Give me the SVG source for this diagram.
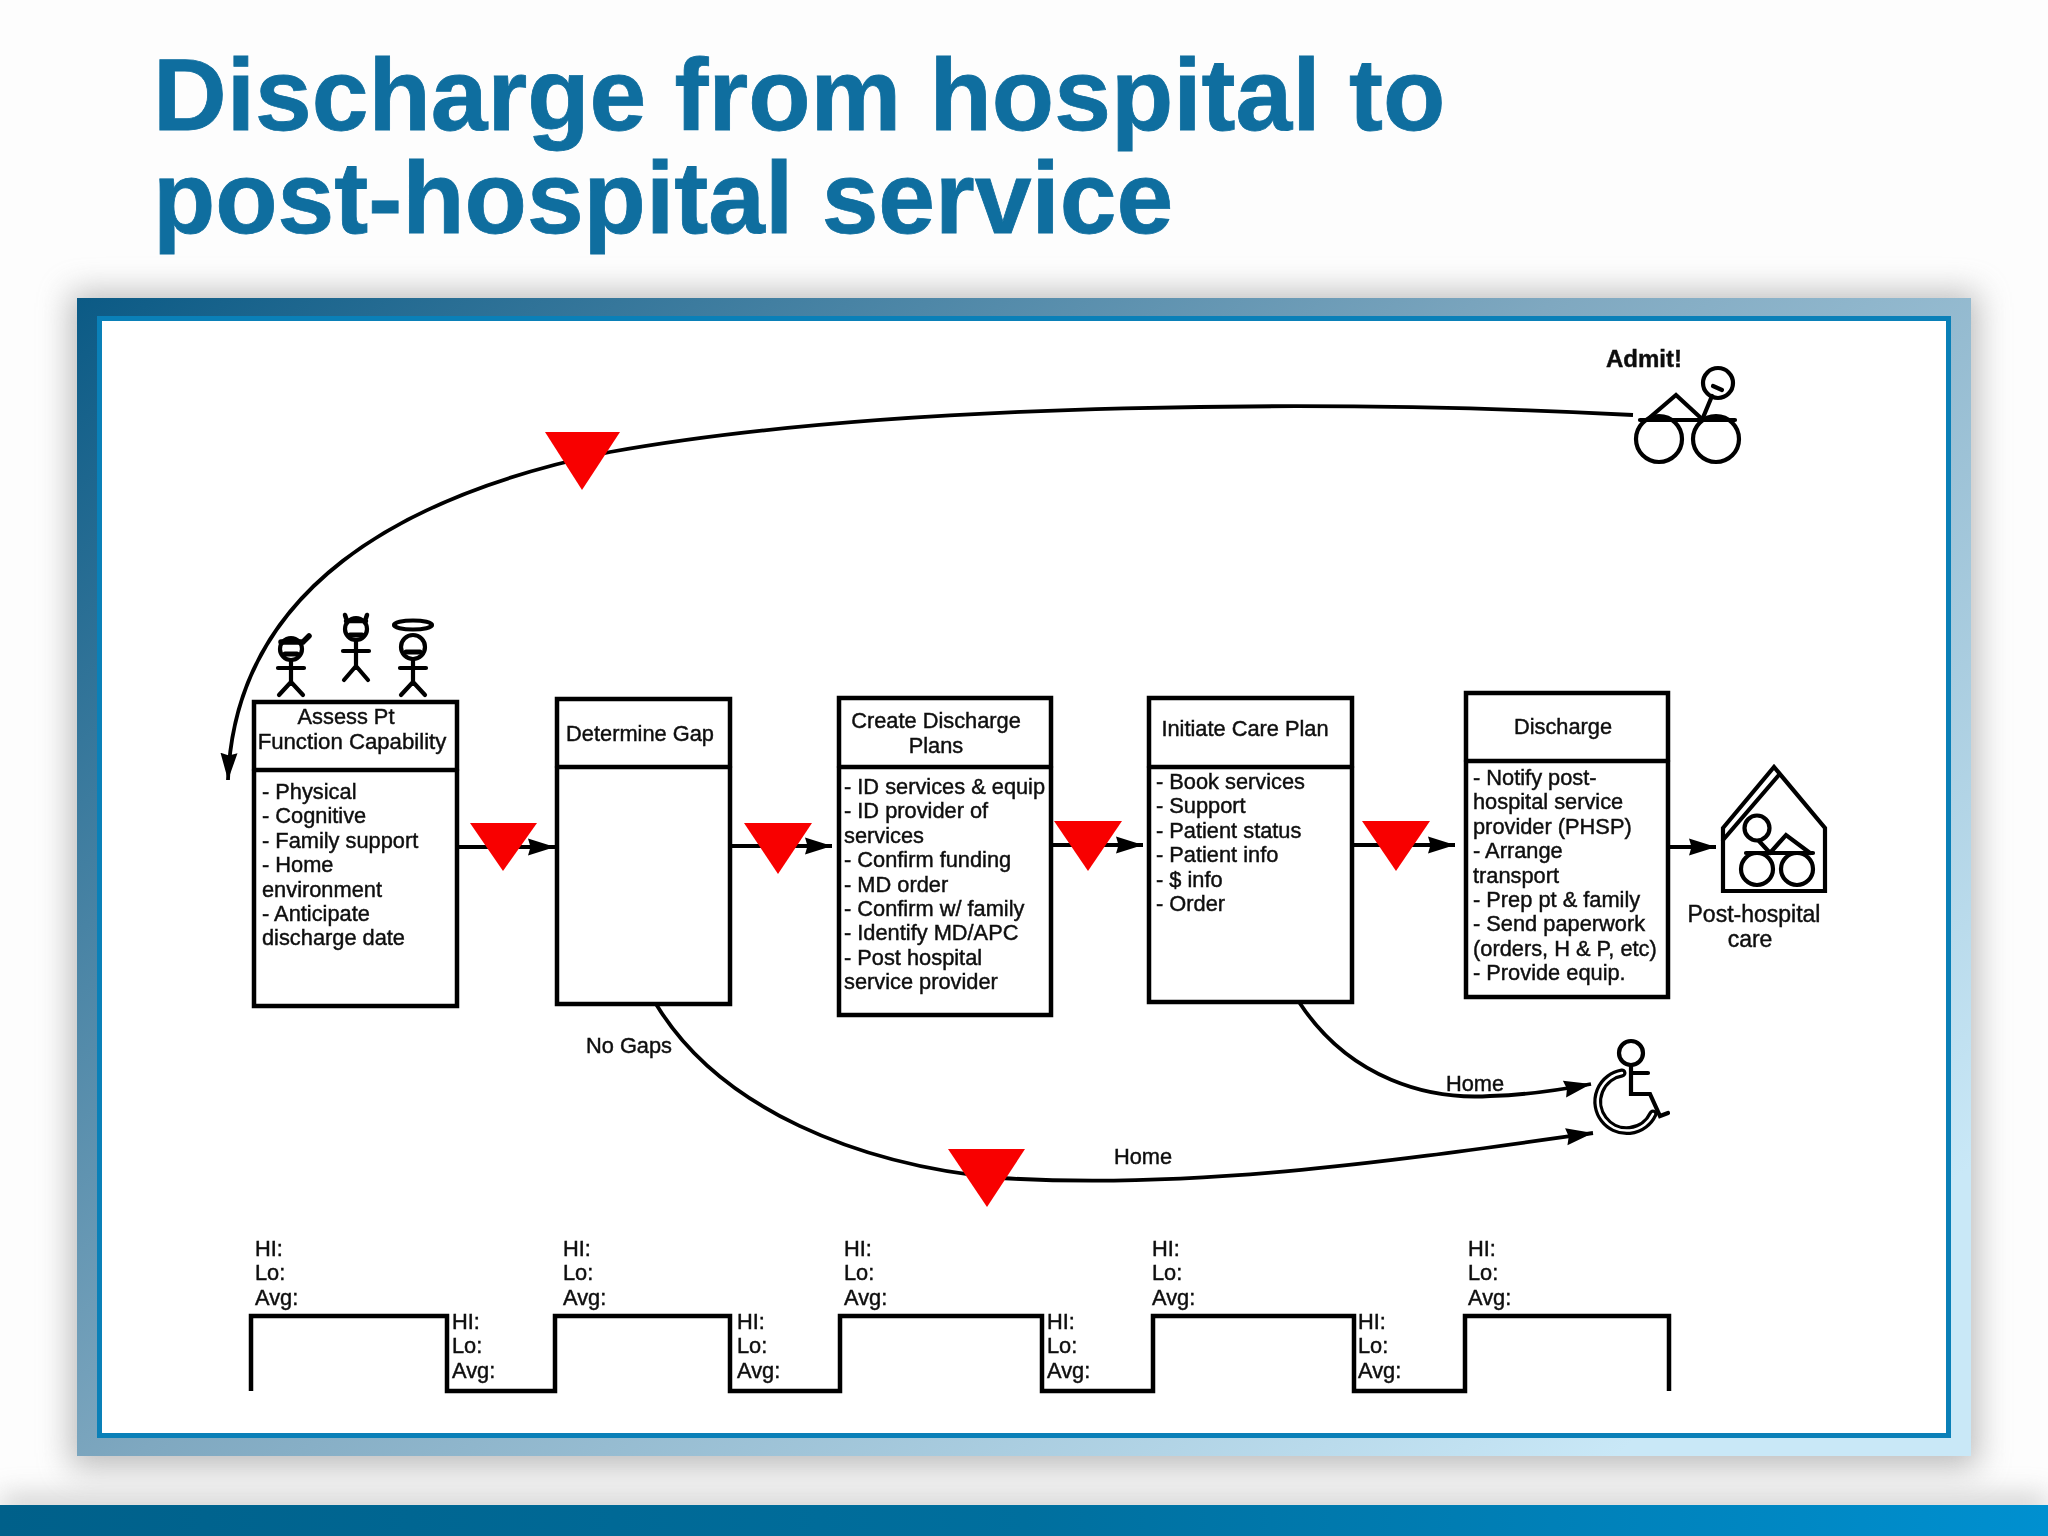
<svg xmlns="http://www.w3.org/2000/svg" width="2048" height="1536" viewBox="0 0 2048 1536">
<style>
.t{font-family:"Liberation Sans",Arial,sans-serif;font-size:21.8px;fill:#111;stroke:#111;stroke-width:.45}
.c{text-anchor:middle}
.box{fill:#fff;stroke:#000;stroke-width:4.5}
.ln{fill:none;stroke:#000;stroke-width:4.5;stroke-linecap:round;stroke-linejoin:round}
.con{fill:none;stroke:#000;stroke-width:3.8}
.tri{fill:#f80000}
.step{fill:none;stroke:#000;stroke-width:4.5;stroke-linejoin:miter}
.fig{fill:none;stroke:#000;stroke-width:4.2;stroke-linecap:round}
</style>
<defs>
<linearGradient id="fr" x1="0" y1="0" x2="1" y2=".75"><stop offset="0" stop-color="#0b5a85"/><stop offset=".5" stop-color="#7fa8c0"/><stop offset="1" stop-color="#c9e8f7"/></linearGradient>
<linearGradient id="bar" x1="0" y1="0" x2="1" y2="0"><stop offset="0" stop-color="#00608a"/><stop offset=".5" stop-color="#006f9e"/><stop offset="1" stop-color="#0090d0"/></linearGradient>
<filter id="bl" x="-10%" y="-10%" width="120%" height="120%"><feGaussianBlur stdDeviation="16"/></filter>
<filter id="bl2" x="-5%" y="-200%" width="110%" height="500%"><feGaussianBlur stdDeviation="14"/></filter>
<filter id="soft" filterUnits="userSpaceOnUse" x="0" y="0" width="2048" height="1536"><feGaussianBlur stdDeviation=".55"/></filter>
<marker id="ah" markerUnits="userSpaceOnUse" markerWidth="28" markerHeight="20" refX="27" refY="10" orient="auto"><path d="M0 1.500L27 10L0 18.500L2.500 10Z" fill="#000"/></marker>
</defs>
<rect width="2048" height="1536" fill="#fdfdfd"/>
<rect x="0" y="1497" width="2048" height="20" fill="#999" opacity=".55" filter="url(#bl2)"/>
<rect x="70" y="292" width="1908" height="1176" fill="#888" opacity=".55" filter="url(#bl)"/>
<rect x="0" y="1505" width="2048" height="31" fill="url(#bar)"/>
<rect x="77" y="298" width="1894" height="1158" fill="url(#fr)"/>
<rect x="99.500" y="318.500" width="1849" height="1117" fill="#fff" stroke="#0a80b8" stroke-width="5"/>
<g id="title" style="font-family:'Liberation Sans',Arial,sans-serif;font-weight:700;font-size:102px" fill="#0f6e9f" stroke="#0f6e9f" stroke-width=".8">
<text x="153" y="130">Discharge from hospital to</text>
<text x="153" y="233">post-hospital service</text>
</g>
<g id="diagram" filter="url(#soft)">
<g id="connectors">
<path class="con" marker-end="url(#ah)" d="M1633 415C1350 400 900 400 610 452C400 495 235 590 228 780"/>
<path class="con" marker-end="url(#ah)" d="M457 847H555"/>
<path class="con" marker-end="url(#ah)" d="M730 846H832"/>
<path class="con" marker-end="url(#ah)" d="M1051 845H1143"/>
<path class="con" marker-end="url(#ah)" d="M1352 845H1455"/>
<path class="con" marker-end="url(#ah)" d="M1669 847H1716"/>
<path class="con" marker-end="url(#ah)" d="M656 1004C720 1110 860 1165 1000 1178C1200 1190 1400 1160 1593 1133"/>
<path class="con" marker-end="url(#ah)" d="M1299 1002C1350 1080 1430 1100 1490 1096C1530 1095 1560 1090 1591 1084"/>
</g>
<g id="markers">
<path class="tri" d="M545 432H620L582 490Z"/>
<path class="tri" d="M470 823H537L503 871Z"/>
<path class="tri" d="M744 823H812L778 874Z"/>
<path class="tri" d="M1054 821H1122L1088 871Z"/>
<path class="tri" d="M1362 821H1430L1396 871Z"/>
<path class="tri" d="M948 1149H1025L987 1207Z"/>
</g>
<g id="node-assess">
<rect class="box" x="254" y="702" width="203" height="304"/><path class="ln" d="M254 770H457"/>
<text class="t c" x="346" y="724">Assess Pt</text><text class="t c" x="352" y="749" style="font-size:22.2px">Function Capability</text>
<text class="t" y="799"><tspan x="262">- Physical</tspan><tspan x="262" dy="24.4">- Cognitive</tspan><tspan x="262" dy="24.4">- Family support</tspan><tspan x="262" dy="24.4">- Home</tspan><tspan x="262" dy="24.4">environment</tspan><tspan x="262" dy="24.4">- Anticipate</tspan><tspan x="262" dy="24.4">discharge date</tspan></text>
</g>
<g id="node-gap">
<rect class="box" x="557" y="699" width="173" height="305"/><path class="ln" d="M557 767H730"/>
<text class="t c" x="640" y="741">Determine Gap</text>
</g>
<g id="node-plans">
<rect class="box" x="839" y="698" width="212" height="317"/><path class="ln" d="M839 767H1051"/>
<text class="t c" x="936" y="728">Create Discharge</text><text class="t c" x="936" y="753">Plans</text>
<text class="t" y="794"><tspan x="844">- ID services &amp; equip</tspan><tspan x="844" dy="24.4">- ID provider of</tspan><tspan x="844" dy="24.4">services</tspan><tspan x="844" dy="24.4">- Confirm funding</tspan><tspan x="844" dy="24.4">- MD order</tspan><tspan x="844" dy="24.4">- Confirm w/ family</tspan><tspan x="844" dy="24.4">- Identify MD/APC</tspan><tspan x="844" dy="24.4">- Post hospital</tspan><tspan x="844" dy="24.4">service provider</tspan></text>
</g>
<g id="node-care">
<rect class="box" x="1149" y="698" width="203" height="304"/><path class="ln" d="M1149 767H1352"/>
<text class="t c" x="1245" y="736">Initiate Care Plan</text>
<text class="t" y="789"><tspan x="1156">- Book services</tspan><tspan x="1156" dy="24.4">- Support</tspan><tspan x="1156" dy="24.4">- Patient status</tspan><tspan x="1156" dy="24.4">- Patient info</tspan><tspan x="1156" dy="24.4">- $ info</tspan><tspan x="1156" dy="24.4">- Order</tspan></text>
</g>
<g id="node-discharge">
<rect class="box" x="1466" y="693" width="202" height="304"/><path class="ln" d="M1466 761H1668"/>
<text class="t c" x="1563" y="734">Discharge</text>
<text class="t" y="785"><tspan x="1473">- Notify post-</tspan><tspan x="1473" dy="24.4">hospital service</tspan><tspan x="1473" dy="24.4">provider (PHSP)</tspan><tspan x="1473" dy="24.4">- Arrange</tspan><tspan x="1473" dy="24.4">transport</tspan><tspan x="1473" dy="24.4">- Prep pt &amp; family</tspan><tspan x="1473" dy="24.4">- Send paperwork</tspan><tspan x="1473" dy="24.4">(orders, H &amp; P, etc)</tspan><tspan x="1473" dy="24.4">- Provide equip.</tspan></text>
</g>
<g id="labels">
<text class="t" x="586" y="1053">No Gaps</text>
<text class="t" x="1446" y="1091">Home</text>
<text class="t" x="1114" y="1164">Home</text>
<text class="t" x="1606" y="367" font-weight="700" style="font-size:24px">Admit!</text>
</g>
<g id="figure-nurse" class="fig">
<circle cx="291" cy="649" r="11"/><path d="M281 642H303L309 636" stroke-width="5.500"/><path d="M291 660V684M278 668H304M291 682L279 695M291 682L303 695"/><path d="M285 654H297" stroke-width="5"/>
</g>
<g id="figure-devil" class="fig">
<circle cx="356" cy="629" r="11"/><path d="M347 621L345 615M365 621L367 615M346 621H366" stroke-width="4.500"/><path d="M356 640V668M343 651H369M356 666L344 680M356 666L368 680"/><path d="M350 635H362" stroke-width="5"/>
</g>
<g id="figure-angel" class="fig">
<ellipse cx="413" cy="625" rx="19" ry="4.500"/><circle cx="413" cy="647" r="12"/><path d="M406 652H420" stroke-width="5"/><path d="M413 659V684M400 668H426M413 682L401 695M413 682L425 695"/>
</g>
<g id="icon-admit" class="fig">
<circle cx="1659" cy="439" r="23"/><circle cx="1716" cy="439" r="23"/><path d="M1640 420H1735M1648 419L1676 395L1702 419"/><circle cx="1718" cy="383" r="15"/><path d="M1712 396L1702 420M1713 386L1722 390"/>
</g>
<g id="icon-house" class="fig">
<path d="M1723 828L1774 767L1825 828V891H1723Z"/><path d="M1723 840L1778 776"/>
<circle cx="1757" cy="869" r="16"/><circle cx="1797" cy="869" r="16"/><path d="M1746 853H1813M1770 853L1786 835L1810 853"/><circle cx="1757" cy="828" r="12.500"/><path d="M1759 841L1770 853"/>
</g>
<g id="label-post"><text class="t c" x="1754" y="922" style="font-size:23px">Post-hospital</text><text class="t c" x="1750" y="947" style="font-size:23px">care</text></g>
<g id="icon-wheelchair" class="fig">
<circle cx="1631" cy="1053" r="12"/><path d="M1631 1065V1094H1650L1660 1116L1668 1113M1631 1073H1648"/><path d="M1622 1073A29 29 0 1 0 1653 1114" stroke-width="9"/><path d="M1622 1073A29 29 0 1 0 1653 1114" stroke="#fff" stroke-width="2.500"/>
</g>
<g id="timeline">
<path class="step" d="M251 1391V1316H447V1391H555V1316H730V1391H840V1316H1042V1391H1153V1316H1354V1391H1465V1316H1669V1391"/>
<text class="t" y="1256"><tspan x="255">HI:</tspan><tspan x="255" dy="24.4">Lo:</tspan><tspan x="255" dy="24.4">Avg:</tspan></text>
<text class="t" y="1256"><tspan x="563">HI:</tspan><tspan x="563" dy="24.4">Lo:</tspan><tspan x="563" dy="24.4">Avg:</tspan></text>
<text class="t" y="1256"><tspan x="844">HI:</tspan><tspan x="844" dy="24.4">Lo:</tspan><tspan x="844" dy="24.4">Avg:</tspan></text>
<text class="t" y="1256"><tspan x="1152">HI:</tspan><tspan x="1152" dy="24.4">Lo:</tspan><tspan x="1152" dy="24.4">Avg:</tspan></text>
<text class="t" y="1256"><tspan x="1468">HI:</tspan><tspan x="1468" dy="24.4">Lo:</tspan><tspan x="1468" dy="24.4">Avg:</tspan></text>
<text class="t" y="1329"><tspan x="452">HI:</tspan><tspan x="452" dy="24.4">Lo:</tspan><tspan x="452" dy="24.4">Avg:</tspan></text>
<text class="t" y="1329"><tspan x="737">HI:</tspan><tspan x="737" dy="24.4">Lo:</tspan><tspan x="737" dy="24.4">Avg:</tspan></text>
<text class="t" y="1329"><tspan x="1047">HI:</tspan><tspan x="1047" dy="24.4">Lo:</tspan><tspan x="1047" dy="24.4">Avg:</tspan></text>
<text class="t" y="1329"><tspan x="1358">HI:</tspan><tspan x="1358" dy="24.4">Lo:</tspan><tspan x="1358" dy="24.4">Avg:</tspan></text>
</g>
</g>
</svg>
